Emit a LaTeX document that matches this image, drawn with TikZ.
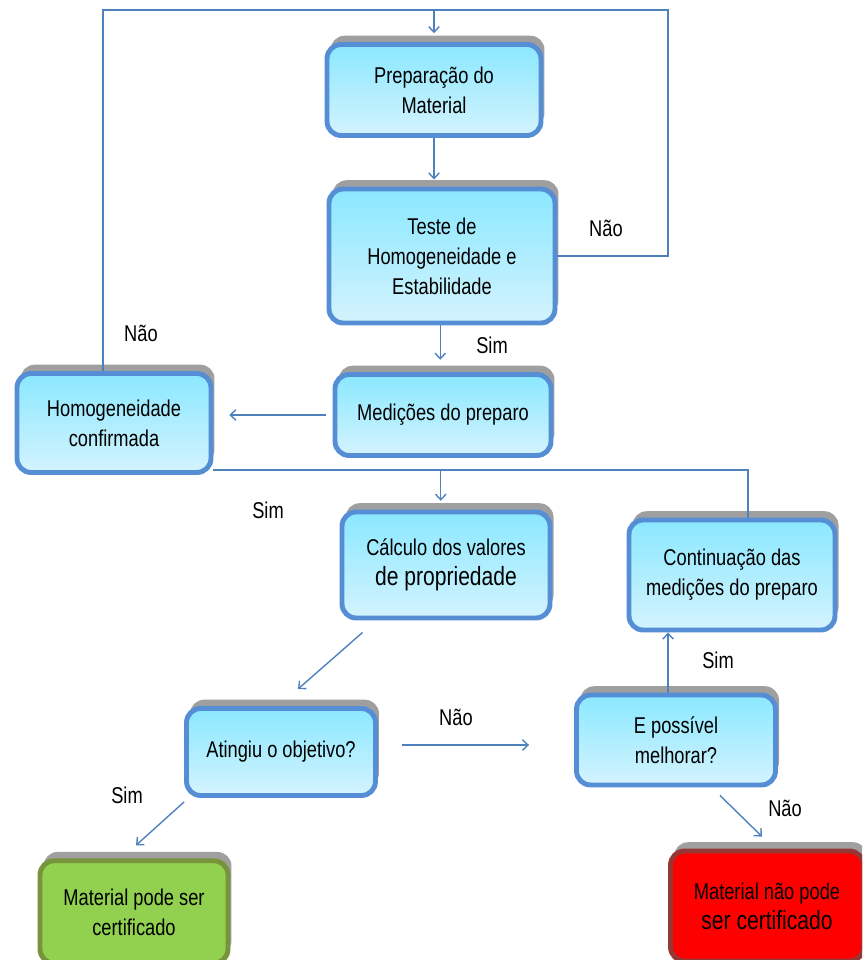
\documentclass[tikz,border=0pt]{standalone}
\usepackage{fontspec}
\setmainfont{Liberation Sans}[FakeStretch=0.8]
\usetikzlibrary{arrows,arrows.meta,shapes,calc,shadows}
\definecolor{boxblue}{RGB}{85,142,213}
\definecolor{linkblue}{RGB}{79,129,189}
\definecolor{cyantop}{RGB}{138,232,255}
\definecolor{cyanbot}{RGB}{212,243,254}
\definecolor{leaf}{RGB}{146,208,80}
\definecolor{leafdark}{RGB}{119,147,60}
\definecolor{redbox}{RGB}{255,0,0}
\definecolor{reddark}{RGB}{149,55,53}
\tikzset{
  stage/.style={rectangle,rounded corners=8pt,line width=2.8pt,draw=boxblue,
    top color=cyantop,bottom color=cyanbot,align=center,inner sep=0pt,
    general shadow={fill=gray!75,shadow xshift=2pt,shadow yshift=5pt}},
  link/.style={linkblue,line width=0.8pt,-{Straight Barb[length=3.2pt,width=6pt]}},
  plain/.style={linkblue,line width=0.8pt},
  tag/.style={inner sep=0pt}
}
\begin{document}
\begin{tikzpicture}[x=0.02cm,y=-0.02cm,font=\fontsize{13}{17}\selectfont]
\clip(0,0)rectangle(862,960);
%boxes
\node[stage,minimum width=4.28cm,minimum height=1.82cm](prep)at(434,90){Preparação do\\Material};
\node[stage,minimum width=4.52cm,minimum height=2.68cm](teste)at(442,256){Teste de\\Homogeneidade e\\Estabilidade};
\node[stage,minimum width=4.32cm,minimum height=1.62cm](med)at(443,415){Medições do preparo};
\node[stage,minimum width=3.88cm,minimum height=1.98cm](homog)at(114,423){Homogeneidade\\confirmada};
\node[stage,minimum width=4.16cm,minimum height=2.12cm](calc)at(446,565){Cálculo dos valores\\{\fontsize{15}{18}\selectfont de propriedade}};
\node[stage,minimum width=4.12cm,minimum height=2.2cm](cont)at(732,575){Continuação das\\medições do preparo};
\node[stage,minimum width=3.78cm,minimum height=1.74cm](ating)at(281,752){Atingiu o objetivo?};
\node[stage,minimum width=3.98cm,minimum height=1.8cm](poss)at(676,740){E possível\\melhorar?};
\node[stage,minimum width=3.76cm,minimum height=2.05cm,draw=leafdark,top color=leaf,bottom color=leaf](pode)at(134,912){Material pode ser\\certificado};
\node[stage,minimum width=3.86cm,minimum height=2.2cm,draw=reddark,top color=redbox,bottom color=redbox](nao)at(767,906){Material não pode\\{\fontsize{15}{18}\selectfont ser certificado}};
%loop lines
\coordinate(tl)at(103,10);
\coordinate(tr)at(668,10);
\coordinate(jn)at(748,470);
\draw[plain](teste.east)-|(tr)--(tl)--(tl|-homog.north);
\draw[link,shorten >=5pt](prep.north|-tl)--(prep.north);
\draw[link,shorten >=4pt](prep.south)--(prep.south|-teste.north);
\draw[link,shorten >=7pt]([xshift=-1pt]teste.south)--([xshift=-1pt]teste.south|-med.north);
\draw[link,shorten <=4pt,shorten >=9pt](med.west)--(med.west-|homog.east);
\draw[plain](jn|-cont.north)--(jn)--(homog.south east|-jn);
\draw[link,shorten >=5pt]([xshift=-3pt]calc.north|-jn)--([xshift=-3pt]calc.north);
%diagonal and lower links
\draw[link]($(calc.south west)+(23,12)$)--($(ating.north)+(17,-17)$);
\draw[link]($(ating.east)+(24,-7)$)--($(poss.west)+(-45,5)$);
\coordinate(pn)at([xshift=-4.5pt]poss.north);
\draw[link](pn)--(pn|-cont.south);
\draw[link]($(poss.south)+(44,8)$)--($(nao.north)+(-5,-12)$);
\draw[link]($(ating.south west)+(0,4)$)--($(pode.north)+(2,-13)$);
%labels
\node[tag](l1)at(606,228){Não};
\node[tag](l2)at(141,333){Não};
\node[tag](l3)at(492,345){Sim};
\node[tag](l4)at(268,510){Sim};
\node[tag](l5)at(456,717){Não};
\node[tag](l6)at(718,660){Sim};
\node[tag](l7)at(785,808){Não};
\node[tag](l8)at(127,795){Sim};
\end{tikzpicture}
\end{document}
